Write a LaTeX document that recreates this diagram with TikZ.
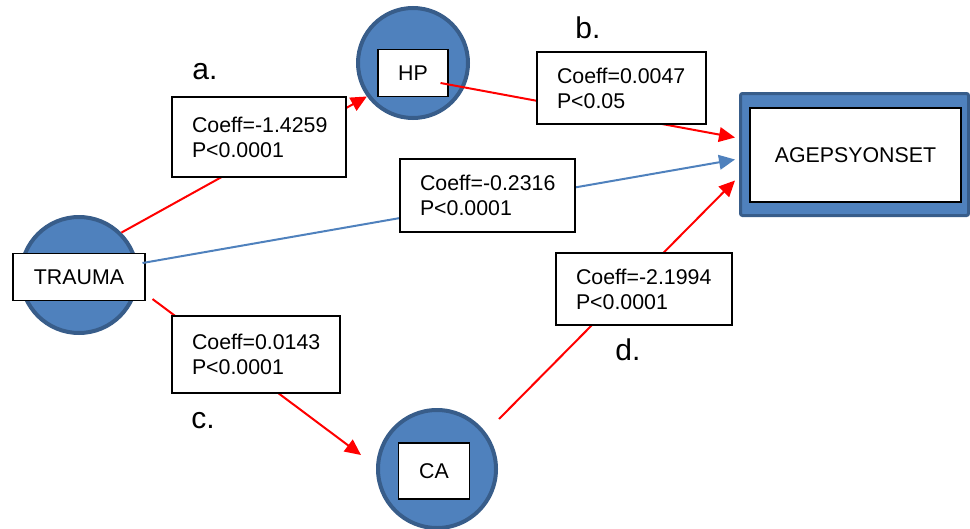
\documentclass[tikz,border=0pt]{standalone}
\usepackage{fontspec}
\setmainfont{Liberation Sans}
\usepackage{xcolor}
\usetikzlibrary{arrows.meta,positioning,calc}

\definecolor{nodeblue}{HTML}{4F81BD}
\definecolor{nodeedge}{HTML}{385D8A}

\begin{document}
\begin{tikzpicture}[x=0.75pt, y=-0.75pt, >={Triangle[length=12pt,width=11pt]},
    font=\fontsize{16}{18.75}\selectfont,
    circ/.style={circle, fill=nodeblue, draw=nodeedge, line width=3pt, inner sep=0pt},
    inbox/.style={draw=black, fill=white, line width=0.8pt, inner sep=0pt},
    coefbox/.style={draw=black, fill=white, line width=0.8pt, align=left, inner xsep=15pt, inner ysep=0pt},
    redpath/.style={red, line width=1.5pt, ->},
    bluepath/.style={nodeblue, line width=1.5pt, ->},
    tag/.style={font=\fontsize{22.5}{26}\selectfont}]
    \useasboundingbox (0,0) rectangle (970,528);

    % Circles
    \node[circ, minimum size=87pt] (traumaC) at (79,275) {};
    \node[circ, minimum size=82.5pt] (hpC) at (413,63) {};
    \node[circ, minimum size=88.5pt] (caC) at (437,469) {};

    % Boxes inside the circles
    \node[inbox, minimum width=99pt, minimum height=35.25pt] (trauma) at (79,277) {TRAUMA};
    \node[inbox, minimum width=52.5pt, minimum height=35.25pt] (hp) at (413,73) {HP};
    \node[inbox, minimum width=53.25pt, minimum height=42pt] (ca) at (434,471) {CA};

    % Outcome
    \node[fill=nodeblue, draw=nodeedge, line width=2.25pt, rounded corners=1.5pt,
        minimum width=171pt, minimum height=91.5pt] (ageO) at (854.5,154.5) {};
    \node[inbox, minimum width=158.25pt, minimum height=70.5pt] (age) at (855.5,155) {AGEPSYONSET};

    % Connector ends
    \coordinate (hpOut) at ($(hp.east)+(-8,10)$);
    \coordinate (traumaOut) at ($(trauma.east)+(-3,-14)$);
    \coordinate (traumaLow) at ($(trauma.south east)+(7,-2)$);
    \coordinate (caIn) at ($(caC.west)+(-15,-14)$);
    \coordinate (caOut) at ($(caC.east)+(1,-50)$);
    \coordinate (ageIn1) at ($(ageO.west)+(-4,-17)$);
    \coordinate (ageIn2) at ($(ageO.west)+(-4,5)$);
    \coordinate (ageIn3) at ($(ageO.west)+(-4,26)$);

    % Paths
    \draw[redpath] (traumaC.45) -- (hpC.216);
    \draw[redpath] (hpOut) -- (ageIn1);
    \draw[bluepath] (traumaOut) -- (ageIn2);
    \draw[redpath] (traumaLow) -- (caIn);
    \draw[redpath] (caOut) -- (ageIn3);

    % Coefficients
    \node[coefbox, text width=100.5pt, minimum height=60pt] (coefA) at (259,137) {\mbox{Coeff=-1.4259}\\P<0.0001};
    \node[coefbox, text width=96.75pt, minimum height=54pt] (coefB) at (621.5,88) {\mbox{Coeff=0.0047}\\P<0.05};
    \node[coefbox, text width=101.25pt, minimum height=54.75pt] (coefE) at (487.5,195.5) {\mbox{Coeff=-0.2316}\\P<0.0001};
    \node[coefbox, text width=96pt, minimum height=57.75pt] (coefC) at (256,354.5) {\mbox{Coeff=0.0143}\\P<0.0001};
    \node[coefbox, text width=102pt, minimum height=54pt] (coefD) at (644,289) {\mbox{Coeff=-2.1994}\\P<0.0001};

    % Path letters
    \node[tag] (tagA) at (205,72) {a.};
    \node[tag] (tagB) at (588,28) {b.};
    \node[tag] (tagC) at (203,421) {c.};
    \node[tag] (tagD) at (628,350) {d.};

\end{tikzpicture}
\end{document}
